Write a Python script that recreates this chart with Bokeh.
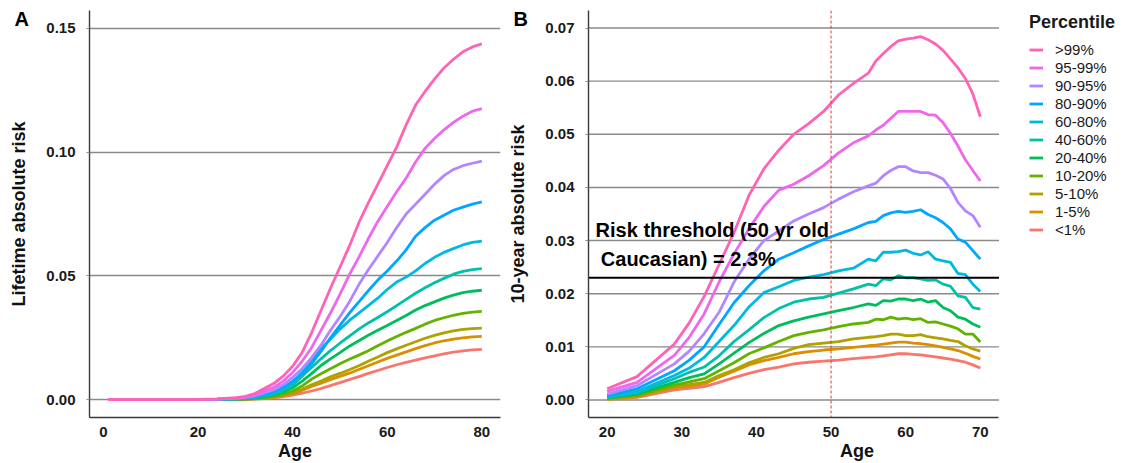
from bokeh.plotting import figure
from bokeh.models import Range1d, FixedTicker, PrintfTickFormatter, Span, Legend, LegendItem
from bokeh.layouts import row
from bokeh.embed import file_html
from bokeh.resources import INLINE
from bokeh.core.properties import value

# ---------------- data ----------------
percentiles = [">99%", "95-99%", "90-95%", "80-90%", "60-80%", "40-60%",
               "20-40%", "10-20%", "5-10%", "1-5%", "<1%"]

# Panel A: lifetime absolute risk
ages_a = [1, 5, 10, 15, 20, 24, 28, 30, 32, 34, 36, 38, 40, 42, 44, 46, 48, 50,
          52, 54, 56, 58, 60, 62, 64, 66, 68, 70, 72, 74, 76, 78, 80]
life_gt99 = [0, 0, 0, 0, 0.0001, 0.0003, 0.0008, 0.0013, 0.0025, 0.0045, 0.0065, 0.0095, 0.0135, 0.019, 0.027, 0.036, 0.045, 0.0535, 0.062, 0.0715, 0.0795, 0.087, 0.0945, 0.102, 0.111, 0.119, 0.1245, 0.1295, 0.134, 0.1375, 0.1405, 0.1425, 0.1437]
life_95_99 = [0, 0, 0, 0, 0.0001, 0.0002, 0.0006, 0.001, 0.002, 0.0035, 0.005, 0.0075, 0.011, 0.0155, 0.021, 0.028, 0.035, 0.0425, 0.0505, 0.0575, 0.065, 0.072, 0.078, 0.084, 0.0895, 0.096, 0.1015, 0.1055, 0.109, 0.112, 0.1145, 0.1165, 0.1176]
life_90_95 = [0, 0, 0, 0, 0.0001, 0.0002, 0.0005, 0.0008, 0.0015, 0.0027, 0.004, 0.006, 0.009, 0.0125, 0.017, 0.022, 0.028, 0.0335, 0.0395, 0.0465, 0.0525, 0.058, 0.0635, 0.0695, 0.075, 0.079, 0.083, 0.087, 0.0905, 0.093, 0.0945, 0.0955, 0.0964]
life_80_90 = [0, 0, 0, 0, 0, 0.0001, 0.0004, 0.0006, 0.0012, 0.002, 0.0032, 0.005, 0.0075, 0.0105, 0.0145, 0.0195, 0.025, 0.030, 0.035, 0.0395, 0.044, 0.0483, 0.052, 0.056, 0.0605, 0.066, 0.0695, 0.0725, 0.0745, 0.0765, 0.0778, 0.079, 0.0799]
life_60_80 = [0, 0, 0, 0, 0, 0.0001, 0.0003, 0.0005, 0.001, 0.0017, 0.0028, 0.0043, 0.0068, 0.011, 0.0155, 0.0205, 0.0245, 0.0285, 0.032, 0.035, 0.038, 0.041, 0.0445, 0.0475, 0.0495, 0.052, 0.055, 0.0575, 0.0595, 0.061, 0.0625, 0.0635, 0.064]
life_40_60 = [0, 0, 0, 0, 0, 0.0001, 0.0003, 0.0004, 0.0008, 0.0014, 0.0023, 0.0037, 0.0058, 0.0095, 0.013, 0.0165, 0.0198, 0.0228, 0.0257, 0.0285, 0.031, 0.0332, 0.0355, 0.038, 0.0405, 0.043, 0.0452, 0.0472, 0.049, 0.0507, 0.0518, 0.0525, 0.0529]
life_20_40 = [0, 0, 0, 0, 0, 0.0001, 0.0002, 0.0003, 0.0006, 0.0011, 0.0019, 0.003, 0.0048, 0.0075, 0.0105, 0.0138, 0.0165, 0.019, 0.0216, 0.0238, 0.026, 0.028, 0.030, 0.032, 0.034, 0.0362, 0.038, 0.0395, 0.041, 0.0422, 0.0432, 0.0438, 0.0442]
life_10_20 = [0, 0, 0, 0, 0, 0.0001, 0.0002, 0.0002, 0.0005, 0.0008, 0.0013, 0.0022, 0.0035, 0.0055, 0.0083, 0.0105, 0.0125, 0.0145, 0.0163, 0.018, 0.0198, 0.0218, 0.0237, 0.0255, 0.0272, 0.0288, 0.0305, 0.032, 0.0331, 0.0341, 0.0349, 0.0354, 0.0357]
life_5_10 = [0, 0, 0, 0, 0, 0.0001, 0.0001, 0.0002, 0.0004, 0.0006, 0.001, 0.0017, 0.0027, 0.0042, 0.006, 0.0075, 0.0092, 0.0106, 0.0121, 0.0137, 0.0155, 0.0172, 0.019, 0.0205, 0.022, 0.0234, 0.0248, 0.026, 0.027, 0.0278, 0.0284, 0.0287, 0.0289]
life_1_5 = [0, 0, 0, 0, 0, 0.0001, 0.0001, 0.0002, 0.0003, 0.0005, 0.0009, 0.0015, 0.0024, 0.0037, 0.0053, 0.0067, 0.0081, 0.0094, 0.0107, 0.0122, 0.0137, 0.0152, 0.0167, 0.018, 0.0193, 0.0206, 0.0218, 0.0229, 0.0238, 0.0245, 0.025, 0.0254, 0.0256]
life_lt1 = [0, 0, 0, 0, 0, 0, 0.0001, 0.0001, 0.0002, 0.0004, 0.0007, 0.0012, 0.0018, 0.0026, 0.0035, 0.0045, 0.0057, 0.0069, 0.0081, 0.0093, 0.0106, 0.0118, 0.013, 0.0141, 0.0151, 0.016, 0.0169, 0.0177, 0.0185, 0.0192, 0.0197, 0.0201, 0.0203]

# Panel B: 10-year absolute risk
ages_b = [20, 24, 29, 31, 33, 35, 37, 39, 41, 43, 45, 47, 49, 51, 53, 55, 56, 57,
          58, 59, 60, 61, 62, 63, 64, 65, 66, 67, 68, 69, 70]
ten_gt99 = [0.0021, 0.0044, 0.0105, 0.0145, 0.0195, 0.0255, 0.0315, 0.0385, 0.0435, 0.047, 0.050, 0.052, 0.0543, 0.0574, 0.0596, 0.0615, 0.0638, 0.0652, 0.0665, 0.0676, 0.0679, 0.0681, 0.0684, 0.0678, 0.067, 0.0658, 0.0642, 0.0625, 0.0605, 0.0576, 0.0533]
ten_95_99 = [0.0016, 0.0033, 0.0084, 0.0118, 0.0162, 0.0222, 0.0275, 0.0322, 0.0364, 0.0395, 0.0406, 0.0422, 0.0441, 0.0465, 0.0484, 0.0497, 0.0508, 0.0517, 0.053, 0.0543, 0.0543, 0.0543, 0.0543, 0.0537, 0.0536, 0.0522, 0.0502, 0.0478, 0.0452, 0.0432, 0.0412]
ten_90_95 = [0.0011, 0.0027, 0.0068, 0.0092, 0.0125, 0.0165, 0.0222, 0.0265, 0.030, 0.0318, 0.0337, 0.035, 0.0362, 0.0378, 0.0392, 0.0403, 0.0408, 0.0422, 0.0432, 0.0439, 0.0439, 0.0431, 0.0428, 0.0428, 0.0423, 0.0416, 0.0398, 0.0372, 0.0356, 0.0347, 0.0325]
ten_80_90 = [0.0008, 0.0021, 0.0055, 0.0075, 0.010, 0.0142, 0.0183, 0.0215, 0.0243, 0.0265, 0.0277, 0.029, 0.0302, 0.0312, 0.0322, 0.0334, 0.0336, 0.0347, 0.0352, 0.0355, 0.0353, 0.0355, 0.0358, 0.0349, 0.0343, 0.0334, 0.0322, 0.0303, 0.0297, 0.0281, 0.0265]
ten_60_80 = [0.0006, 0.0016, 0.0046, 0.006, 0.008, 0.011, 0.014, 0.0175, 0.0202, 0.0213, 0.0225, 0.0231, 0.0236, 0.0243, 0.0248, 0.0265, 0.0262, 0.0278, 0.0278, 0.0279, 0.0282, 0.0276, 0.0273, 0.0279, 0.0265, 0.0262, 0.0259, 0.0238, 0.0236, 0.0218, 0.0204]
ten_40_60 = [0.0005, 0.0013, 0.004, 0.0052, 0.0062, 0.0083, 0.011, 0.0132, 0.0155, 0.0172, 0.0184, 0.019, 0.0193, 0.0201, 0.0209, 0.0218, 0.0215, 0.0228, 0.0226, 0.0234, 0.023, 0.023, 0.0228, 0.0225, 0.0226, 0.0218, 0.0214, 0.0196, 0.0193, 0.0174, 0.0171]
ten_20_40 = [0.0004, 0.0011, 0.0033, 0.0042, 0.0049, 0.0068, 0.0088, 0.0108, 0.0125, 0.014, 0.0149, 0.0156, 0.0162, 0.0168, 0.0174, 0.0181, 0.0178, 0.0187, 0.0186, 0.019, 0.019, 0.0187, 0.019, 0.0184, 0.0187, 0.0174, 0.0168, 0.0156, 0.0152, 0.0143, 0.0137]
ten_10_20 = [0.0003, 0.0009, 0.0028, 0.0034, 0.004, 0.0055, 0.007, 0.0087, 0.0098, 0.011, 0.0121, 0.0127, 0.0132, 0.0138, 0.0143, 0.0146, 0.0152, 0.0151, 0.0156, 0.0152, 0.0154, 0.0151, 0.0153, 0.0146, 0.0147, 0.0143, 0.0139, 0.0134, 0.0124, 0.0124, 0.0109]
ten_5_10 = [0.0002, 0.0008, 0.0025, 0.0029, 0.0033, 0.0046, 0.0057, 0.007, 0.008, 0.0087, 0.0097, 0.0104, 0.0107, 0.011, 0.0115, 0.0118, 0.0119, 0.0121, 0.0124, 0.0124, 0.0121, 0.0121, 0.0123, 0.0119, 0.0117, 0.0115, 0.0112, 0.011, 0.0102, 0.0096, 0.0092]
ten_1_5 = [0.0001, 0.0006, 0.0023, 0.0026, 0.003, 0.0043, 0.0054, 0.0066, 0.0074, 0.008, 0.0087, 0.0091, 0.0094, 0.0096, 0.0099, 0.0102, 0.0103, 0.0105, 0.0107, 0.0109, 0.0109, 0.0107, 0.0106, 0.0104, 0.0102, 0.0099, 0.0096, 0.0093, 0.0088, 0.0082, 0.0077]
ten_lt1 = [0.0001, 0.0005, 0.0019, 0.0022, 0.0025, 0.0033, 0.0042, 0.005, 0.0057, 0.0062, 0.0068, 0.0071, 0.0073, 0.0075, 0.0078, 0.008, 0.0081, 0.0083, 0.0085, 0.0087, 0.0087, 0.0086, 0.0085, 0.0083, 0.0081, 0.0079, 0.0077, 0.0074, 0.0071, 0.0066, 0.006]

threshold = 0.023
threshold_age = 50
threshold_lines = ["Risk threshold (50 yr old", "Caucasian) = 2.3%"]
ticks_a_x = [0, 20, 40, 60, 80]
ticks_a_y = [0.0, 0.05, 0.10, 0.15]
ticks_b_x = [20, 30, 40, 50, 60, 70]
ticks_b_y = [0.0, 0.01, 0.02, 0.03, 0.04, 0.05, 0.06, 0.07]

life_series = [life_gt99, life_95_99, life_90_95, life_80_90, life_60_80, life_40_60,
               life_20_40, life_10_20, life_5_10, life_1_5, life_lt1]
ten_series = [ten_gt99, ten_95_99, ten_90_95, ten_80_90, ten_60_80, ten_40_60,
              ten_20_40, ten_10_20, ten_5_10, ten_1_5, ten_lt1]

# ---------------- style ----------------
colors = ["#FF63B6", "#EF67EB", "#B385FF", "#00A6FF", "#00BADE", "#00C1A7",
          "#00BD5C", "#64B200", "#AEA200", "#DB8E00", "#F8766D"]
FONT = "Liberation Sans"
GRID = "#8a8a8a"
H = 463

# panel B data window and the extra room on its right that holds the legend
B_X0, B_X1 = 17.5, 72.5
B_PX_PER_YEAR = 412 / (B_X1 - B_X0)
B_FRAME_W = 1128 - 505 - 81 - 3
B_XR_END = B_X0 + B_FRAME_W / B_PX_PER_YEAR


def style(p, xticks, yticks, letter):
    p.outline_line_color = None
    p.background_fill_color = "white"
    p.xgrid.visible = False
    p.ygrid.grid_line_color = GRID
    p.ygrid.grid_line_width = 1.4
    p.xaxis.ticker = FixedTicker(ticks=xticks)
    p.yaxis.ticker = FixedTicker(ticks=yticks)
    p.yaxis.formatter = PrintfTickFormatter(format="%.2f")
    for ax in (p.xaxis[0], p.yaxis[0]):
        ax.axis_line_color = "#3a3a3a"
        ax.axis_line_width = 1.4
        ax.minor_tick_line_color = None
        ax.major_label_text_font = FONT
        ax.major_label_text_font_style = "bold"
        ax.major_label_text_font_size = "15px"
        ax.major_label_text_color = "#1a1a1a"
        ax.axis_label_text_font = FONT
        ax.axis_label_text_font_style = "bold"
        ax.axis_label_text_font_size = "18px"
        ax.axis_label_text_color = "#111111"
    p.yaxis.major_tick_out = 3
    p.yaxis.major_tick_in = 0
    p.yaxis.major_tick_line_color = GRID
    p.yaxis.major_label_standoff = 11
    p.yaxis.axis_label_standoff = 14
    p.xaxis.major_tick_out = 0
    p.xaxis.major_tick_in = 0
    p.xaxis.major_label_standoff = 9
    p.xaxis.axis_label_standoff = 1
    # panel letter as a zero-height title, shifted left of the frame
    p.title.text = letter
    p.title.align = "left"
    p.title.vertical_align = "bottom"
    p.title.offset = -75
    p.title.standoff = -38
    p.title.text_font = FONT
    p.title.text_font_style = "bold"
    p.title.text_font_size = "20px"
    p.title.text_color = "black"


# ---------------- panel A ----------------
pA = figure(width=505, height=H, output_backend="svg", toolbar_location=None,
            x_range=Range1d(-2.95, 83.95), y_range=Range1d(-0.0072, 0.1572),
            min_border_left=89, min_border_right=5, min_border_top=10, min_border_bottom=46,
            x_axis_label="Age", y_axis_label="Lifetime absolute risk", title="A")
style(pA, ticks_a_x, ticks_a_y, "A")
for ys, c in zip(life_series[::-1], colors[::-1]):
    pA.line(ages_a, ys, line_color=c, line_width=2.8)

# ---------------- panel B ----------------
pB = figure(width=623, height=H, output_backend="svg", toolbar_location=None,
            x_range=Range1d(B_X0, B_XR_END), y_range=Range1d(-0.0033, 0.0733),
            min_border_left=81, min_border_right=3, min_border_top=10, min_border_bottom=46,
            x_axis_label="Age", y_axis_label="10-year absolute risk", title="B")
style(pB, ticks_b_x, ticks_b_y, "B")
pB.ygrid.visible = False
pB.xaxis.bounds = (B_X0, B_X1)
# horizontal grid lines limited to the data window
pB.segment(x0=[B_X0] * len(ticks_b_y), x1=[B_X1] * len(ticks_b_y), y0=ticks_b_y, y1=ticks_b_y,
           line_color=GRID, line_width=1.4)

renderers = {}
for name, ys, c in list(zip(percentiles, ten_series, colors))[::-1]:
    renderers[name] = pB.line(ages_b, ys, line_color=c, line_width=2.8)

pB.add_layout(Span(location=threshold_age, dimension="height", line_color="#E8382F",
                   line_width=1, line_dash="3 2"))
pB.segment(x0=[B_X0], x1=[B_X1], y0=[threshold], y1=[threshold], line_color="black", line_width=2)
pB.text(x=[18.45, 19.15], y=[0.0319, 0.0266], text=threshold_lines,
        text_font=value(FONT), text_font_style="bold", text_font_size="20px",
        text_baseline="middle", text_align="left", text_color="black")

legend = Legend(items=[LegendItem(label=n, renderers=[renderers[n]]) for n in percentiles],
                location=(441, 179), title="Percentile",
                title_text_font=FONT, title_text_font_style="bold", title_text_font_size="18px",
                title_text_color="#1a1a1a", title_standoff=8,
                label_text_font=FONT, label_text_font_size="15px", label_text_color="#1a1a1a",
                glyph_width=14, glyph_height=15, label_height=15, label_standoff=12,
                spacing=1, padding=0, margin=0,
                border_line_color=None, background_fill_alpha=0)
pB.add_layout(legend, "center")

layout = row(pA, pB)
open("out.html", "w").write(file_html(layout, INLINE))
